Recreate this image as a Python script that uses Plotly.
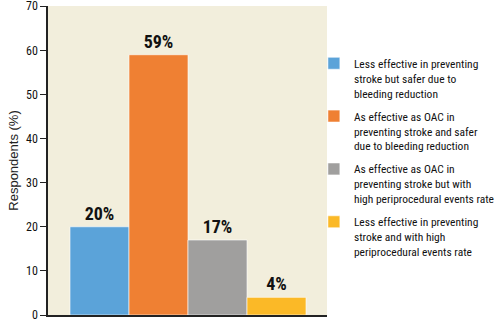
import plotly.graph_objects as go

labels = [
    "Less effective in preventing<br>stroke but safer due to<br>bleeding reduction",
    "As effective as OAC in<br>preventing stroke and safer<br>due to bleeding reduction",
    "As effective as OAC in<br>preventing stroke but with<br>high periprocedural events rate",
    "Less effective in preventing<br>stroke and with high<br>periprocedural events rate",
]
values = [20, 59, 17, 4]
colors = ["#5BA3D9", "#EF8033", "#A09F9E", "#FBB927"]
y_ticks = [0, 10, 20, 30, 40, 50, 60, 70]

NARROW = "Roboto Condensed, DejaVu Sans Condensed"

fig = go.Figure()
for i, (lab, v, c) in enumerate(zip(labels, values, colors)):
    fig.add_trace(go.Bar(
        x=[i], y=[v], name=lab, width=1, legendgroup=f"g{i}",
        marker=dict(color=c, line=dict(color="rgba(255,255,255,0.6)", width=1)),
        text=[f"{v}%"], textposition="outside",
        textfont=dict(family=NARROW, size=18, color="#111", weight="bold"),
        cliponaxis=False,
    ))

fig.update_layout(
    width=502, height=324,
    margin=dict(l=48, r=175, t=6, b=9, autoexpand=False),
    paper_bgcolor="white",
    plot_bgcolor="#F2EEDC",
    barmode="overlay",
    showlegend=True,
    legend=dict(
        x=0.953, xanchor="left", y=0.86, yanchor="top",
        bgcolor="rgba(0,0,0,0)",
        font=dict(family=NARROW, size=11.5, color="#111"),
        itemwidth=30, tracegroupgap=5, valign="top",
    ),
    xaxis=dict(
        range=[-0.873, 3.856], showticklabels=False, showgrid=False,
        zeroline=False, showline=True, linecolor="#222", linewidth=1.5, ticks="",
        automargin=False,
    ),
    yaxis=dict(
        range=[0, 70.05], tickvals=y_ticks, showgrid=False, zeroline=False,
        showline=True, linecolor="#222", linewidth=1.5,
        ticks="outside", ticklen=6, tickcolor="#222",
        ticklabeloverflow="allow", automargin=False,
        tickfont=dict(family=NARROW, size=12, color="#111"),
        title=dict(text="Respondents (%)", font=dict(family="Liberation Sans, Arial", size=13, color="#222"), standoff=4),
    ),
)

fig.write_html("out.html")
